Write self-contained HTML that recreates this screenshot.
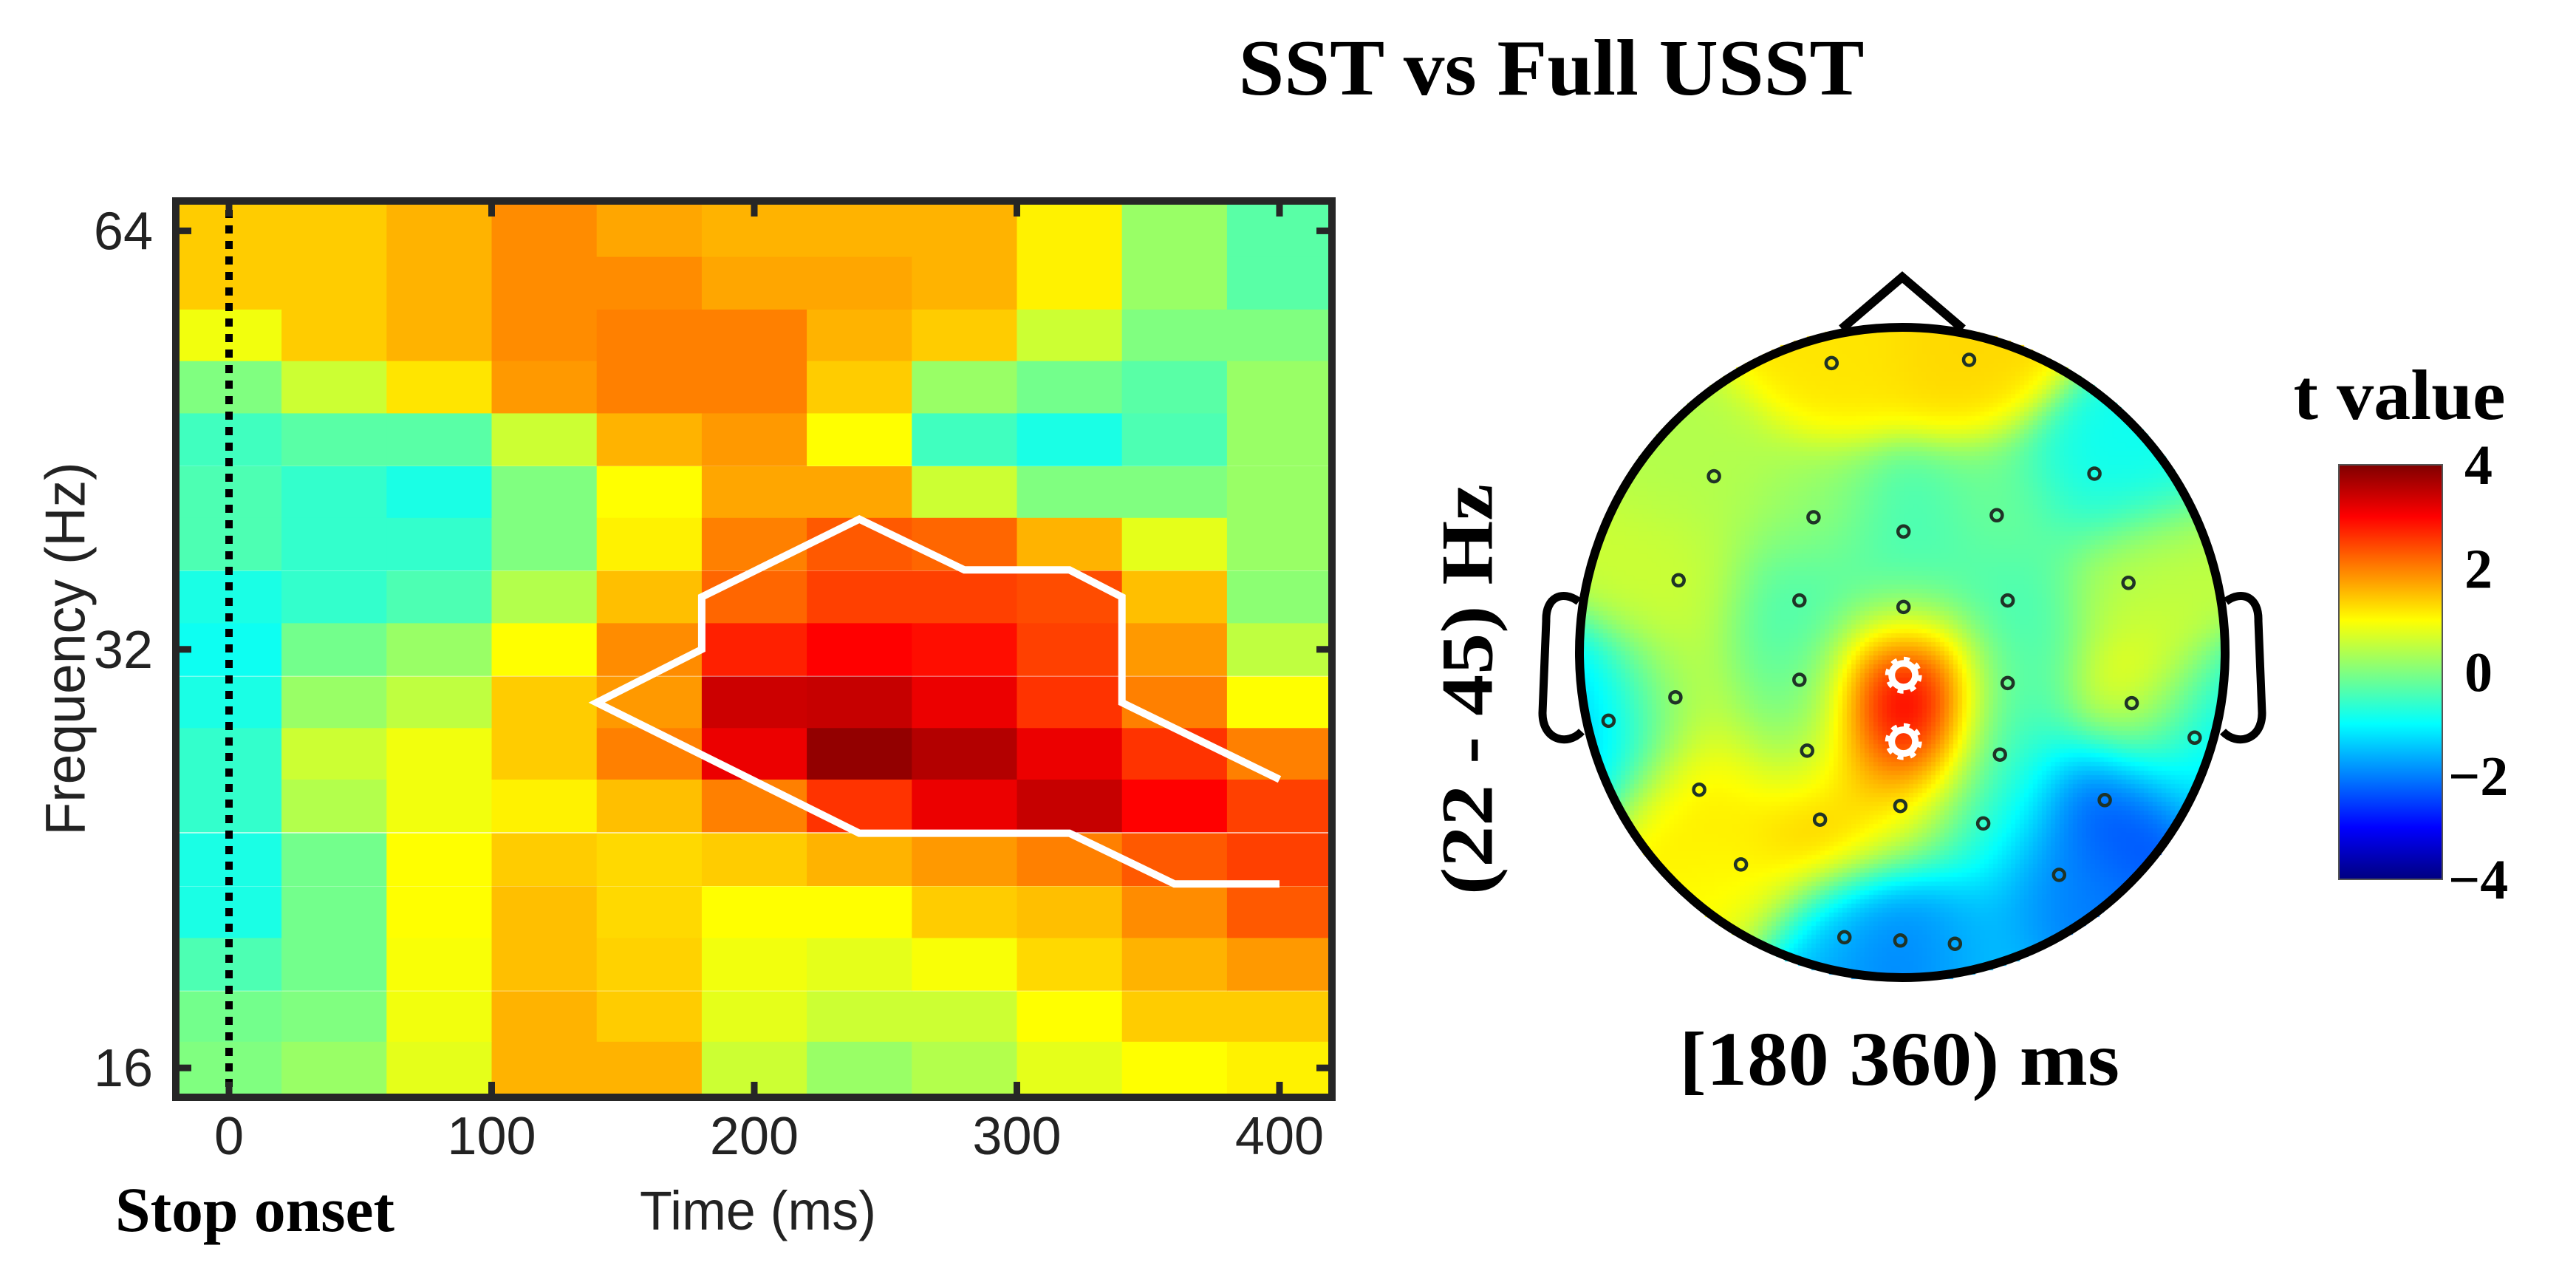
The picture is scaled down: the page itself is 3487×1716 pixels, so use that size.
<!DOCTYPE html>
<html><head><meta charset="utf-8">
<style>
html,body{margin:0;padding:0;background:#fff;}
#wrap{position:relative;width:3487px;height:1716px;overflow:hidden;background:#fff;}
#topo{position:absolute;left:0;top:0;}
#svg{position:absolute;left:0;top:0;}
</style></head>
<body>
<div id="wrap">
<canvas id="topo" width="3487" height="1716"></canvas>
<svg id="svg" width="3487" height="1716" xmlns="http://www.w3.org/2000/svg">
  <defs>
    <clipPath id="plotClip"><rect x="243" y="277" width="1555" height="1204"/></clipPath>
    <linearGradient id="jetGrad" x1="0" y1="1" x2="0" y2="0"></linearGradient>
  </defs>
  <g id="cells" clip-path="url(#plotClip)"></g>
  <polyline id="contour" fill="none" stroke="#fff" stroke-width="10" stroke-linejoin="miter"/>
  <line x1="310" y1="284" x2="310" y2="1478" stroke="#000" stroke-width="10" stroke-dasharray="11 10"/>
  <g id="ticks"></g>
  <rect x="238" y="272" width="1565" height="1213" fill="none" stroke="#262626" stroke-width="10"/>
  <g id="ticklabels" font-family="Liberation Sans, sans-serif" fill="#222"></g>
  <text x="89" y="878" transform="rotate(-90 89 878)" text-anchor="middle" dominant-baseline="central" font-family="Liberation Sans, sans-serif" font-size="76" textLength="505" lengthAdjust="spacingAndGlyphs" fill="#222">Frequency (Hz)</text>
  <text x="1026" y="1664" text-anchor="middle" font-family="Liberation Sans, sans-serif" font-size="74" textLength="320" lengthAdjust="spacingAndGlyphs" fill="#222">Time (ms)</text>
  <text x="156" y="1666" font-family="Liberation Serif, serif" font-weight="bold" font-size="86" textLength="378" lengthAdjust="spacingAndGlyphs" fill="#000">Stop onset</text>
  <text x="2100" y="128" text-anchor="middle" font-family="Liberation Serif, serif" font-weight="bold" font-size="108" textLength="847" lengthAdjust="spacingAndGlyphs" fill="#000">SST vs Full USST</text>

  <g id="head">
    <ellipse cx="2575" cy="883" rx="437" ry="440" fill="none" stroke="#000" stroke-width="12"/>
    <path d="M2493,445 L2575,375 L2657,445" fill="none" stroke="#000" stroke-width="12" stroke-linejoin="miter"/>
    <path d="M2137,814 C2115,798 2092,808 2093,840 L2088,965 C2088,1002 2122,1010 2141,990" fill="none" stroke="#000" stroke-width="11"/>
    <path d="M3013,814 C3035,798 3058,808 3057,840 L3062,965 C3062,1002 3028,1010 3009,990" fill="none" stroke="#000" stroke-width="11"/>
  </g>
  <g id="electrodes"></g>
  <text x="1986" y="933" transform="rotate(-90 1986 933)" text-anchor="middle" dominant-baseline="central" font-family="Liberation Serif, serif" font-weight="bold" font-size="100" textLength="556" lengthAdjust="spacingAndGlyphs" fill="#000">(22 - 45) Hz</text>
  <text x="2571" y="1468" text-anchor="middle" font-family="Liberation Serif, serif" font-weight="bold" font-size="104" textLength="596" lengthAdjust="spacingAndGlyphs" fill="#000">[180 360) ms</text>

  <text x="3248" y="567" text-anchor="middle" font-family="Liberation Serif, serif" font-weight="bold" font-size="96" textLength="287" lengthAdjust="spacingAndGlyphs" fill="#000">t value</text>
  <rect x="3166" y="629" width="140" height="561" fill="url(#jetGrad)" stroke="#555" stroke-width="2"/>
  <g id="cbticks" font-family="Liberation Serif, serif" font-weight="bold" font-size="76" fill="#000"></g>
</svg>
</div>
<script>
// ---------- Time-frequency heatmap data ----------
const times = [0,40,80,120,160,200,240,280,320,360,400];
const freqs = [64,58.7,53.8,49.4,45.3,41.5,38.1,34.9,32,29.3,26.9,24.7,22.6,20.7,19.0,17.4,16.0];
const tRow0  = [1.4,1.4,1.6,1.9,1.7,1.6,1.6,1.6,1.1,0.2,-0.3];
const tRow1  = [1.4,1.4,1.6,1.9,1.9,1.7,1.7,1.6,1.1,0.2,-0.3];
const tRow2  = [0.9,1.4,1.6,1.9,2.0,2.0,1.6,1.4,0.6,0.0,0.0];
const tRow3  = [0.0,0.6,1.2,1.8,2.0,2.0,1.4,0.2,-0.1,-0.3,0.2];
const tRow4  = [-0.5,-0.3,-0.3,0.6,1.6,1.8,1.0,-0.5,-0.8,-0.4,0.2];
const tRow5  = [-0.4,-0.6,-0.8,0.0,1.0,1.7,1.7,0.6,0.0,0.0,0.2];
const tRow6  = [-0.4,-0.6,-0.6,0.0,1.1,2.0,2.3,2.2,1.6,0.8,0.2];
const tRow7  = [-0.8,-0.6,-0.4,0.4,1.5,2.2,2.5,2.5,2.4,1.5,0.1];
const tRow8  = [-0.9,-0.1,0.2,1.0,1.9,2.75,3.0,2.9,2.5,1.8,0.5];
const tRow9  = [-0.8,0.2,0.5,1.4,1.8,3.4,3.45,3.15,2.6,2.0,1.0];
const tRow10 = [-0.6,0.6,0.9,1.4,2.0,3.15,3.85,3.6,3.15,2.6,2.0];
const tRow11 = [-0.6,0.4,0.9,1.1,1.5,2.0,2.6,3.15,3.45,3.0,2.5];
const tRow12 = [-0.8,-0.1,1.0,1.4,1.3,1.4,1.6,1.8,2.0,2.3,2.5];
const tRow13 = [-0.8,-0.1,1.0,1.5,1.3,1.0,1.0,1.4,1.5,1.9,2.3];
const tRow14 = [-0.4,-0.1,0.95,1.5,1.35,0.9,0.8,0.95,1.3,1.6,1.8];
const tRow15 = [-0.1,0.0,0.9,1.6,1.4,0.8,0.6,0.6,1.0,1.4,1.4];
const tRow16 = [0.0,0.2,0.8,1.6,1.6,0.6,0.2,0.4,0.8,1.0,1.1];
const tValues = [tRow0,tRow1,tRow2,tRow3,tRow4,tRow5,tRow6,tRow7,tRow8,tRow9,tRow10,tRow11,tRow12,tRow13,tRow14,tRow15,tRow16];
// significance cluster outline (time ms, frequency Hz)
const contourTimes = [400,340,340,320,280,240,180,180,140,240,320,360,400];
const contourFreqs = [25.8,29.3,34.9,36.5,36.5,39.7,34.9,32,29.3,23.6,23.6,21.7,21.7];
const xTicks = [0,100,200,300,400];
const yTicks = [64,32,16];
// ---------- Topography data ----------
const elecX = [0.390,0.604,0.207,0.799,0.362,0.647,0.502,0.152,0.852,0.340,0.502,0.664,0.340,0.664,0.147,0.857,0.043,0.955,0.352,0.652,0.184,0.815,0.497,0.372,0.626,0.249,0.744,0.410,0.497,0.582];
const elecY = [0.055,0.050,0.229,0.225,0.292,0.289,0.314,0.389,0.393,0.420,0.430,0.420,0.542,0.547,0.569,0.578,0.605,0.631,0.651,0.657,0.711,0.727,0.736,0.757,0.763,0.826,0.842,0.938,0.943,0.948];
const elecT = [1.2,1.3,0.4,-0.9,0.2,-0.1,-0.5,0.6,0.5,-0.5,-0.4,-0.5,-0.3,-0.4,0.6,1.1,-1.5,-1.2,0.1,-0.7,1.2,-2.5,0.5,1.8,-0.8,1.0,-2.0,-1.5,-2.3,-1.4];
const sigX = [0.502,0.502];
const sigY = [0.535,0.637];
const sigT = [3.9,3.6];
const cbTicks = [4,2,0,-2,-4];

const NS = 'http://www.w3.org/2000/svg';
function jet(v){
  let f = (v+4)/8; f = Math.max(0,Math.min(1,f));
  const cl = x=>Math.max(0,Math.min(1,x));
  const r = cl(1.5-Math.abs(4*f-3)), g = cl(1.5-Math.abs(4*f-2)), b = cl(1.5-Math.abs(4*f-1));
  return [Math.round(r*255),Math.round(g*255),Math.round(b*255)];
}
function jetStr(v){const c=jet(v);return 'rgb('+c[0]+','+c[1]+','+c[2]+')';}
const xOf = t => 310 + t*3.555;
const yOf = f => 277 + (Math.log2(64/f)*8 + 0.5)*70.8;
const rowH = 70.8;

const cells = document.getElementById('cells');
for (let r=0;r<freqs.length;r++){
  for (let c=0;c<times.length;c++){
    const rc = document.createElementNS(NS,'rect');
    const x0 = xOf(times[c]-20), x1 = xOf(times[c]+20);
    const yc = yOf(freqs[r]);
    rc.setAttribute('x', x0.toFixed(1));
    rc.setAttribute('y', (yc-rowH/2).toFixed(1));
    rc.setAttribute('width', (x1-x0+0.6).toFixed(1));
    rc.setAttribute('height', (rowH+0.6).toFixed(1));
    rc.setAttribute('fill', jetStr(tValues[r][c]));
    
    
    cells.appendChild(rc);
  }
}
document.getElementById('contour').setAttribute('points',
  contourTimes.map((t,i)=>xOf(t).toFixed(1)+','+yOf(contourFreqs[i]).toFixed(1)).join(' '));

const ticks = document.getElementById('ticks');
function tline(x1,y1,x2,y2,name){
  const l=document.createElementNS(NS,'line');
  l.setAttribute('x1',x1);l.setAttribute('y1',y1);l.setAttribute('x2',x2);l.setAttribute('y2',y2);
  l.setAttribute('stroke','#262626');l.setAttribute('stroke-width','9');
  
  
  ticks.appendChild(l);
}
const tl = document.getElementById('ticklabels');
xTicks.forEach(t=>{
  const x=xOf(t);
  tline(x,277,x,293,'x-tick-top');
  tline(x,1480,x,1464,'x-tick-bottom');
  const tx=document.createElementNS(NS,'text');
  tx.setAttribute('x',x.toFixed(1));tx.setAttribute('y','1562');
  tx.setAttribute('text-anchor','middle');tx.setAttribute('font-size','72');
  tx.textContent=String(t);
  
  
  tl.appendChild(tx);
});
yTicks.forEach(f=>{
  const y=yOf(f);
  tline(243,y,259,y,'y-tick-left');
  tline(1798,y,1782,y,'y-tick-right');
  const tx=document.createElementNS(NS,'text');
  tx.setAttribute('x','207');tx.setAttribute('y',(y+25).toFixed(1));
  tx.setAttribute('text-anchor','end');tx.setAttribute('font-size','72');
  tx.textContent=String(f);
  
  
  tl.appendChild(tx);
});

// topography
const HX0=2140, HX1=3010, HY0=443, HY1=1323;
const cx=2575, cy=883, rx=435, ry=440;
const ex = elecX.map(v=>HX0+v*(HX1-HX0)), ey = elecY.map(v=>HY0+v*(HY1-HY0));
const sx = sigX.map(v=>HX0+v*(HX1-HX0)), sy = sigY.map(v=>HY0+v*(HY1-HY0));
const px = ex.concat(sx), py = ey.concat(sy), pv = elecT.concat(sigT);
const cv = document.getElementById('topo');
const ctx = cv.getContext('2d');
const step = 6;
const sig2 = 2*62*62;
for (let y=HY0; y<=HY1; y+=step){
  for (let x=HX0; x<=HX1; x+=step){
    const dx=(x+step/2-cx)/rx, dy=(y+step/2-cy)/ry;
    if (dx*dx+dy*dy>1.02) continue;
    let ws=0, vs=0;
    for (let i=0;i<px.length;i++){
      const d2=(x-px[i])**2+(y-py[i])**2;
      const w=Math.exp(-d2/sig2)+1e-3/(1+d2/4000)**1.5;
      ws+=w; vs+=w*pv[i];
    }
    ctx.fillStyle=jetStr(vs/ws);
    ctx.fillRect(x,y,step,step);
  }
}
const eg = document.getElementById('electrodes');
for (let i=0;i<ex.length;i++){
  const c=document.createElementNS(NS,'circle');
  c.setAttribute('cx',ex[i].toFixed(1));c.setAttribute('cy',ey[i].toFixed(1));
  c.setAttribute('r','7.5');c.setAttribute('fill','none');
  c.setAttribute('stroke','#1f3327');c.setAttribute('stroke-width','4.5');
  
  
  eg.appendChild(c);
}
for (let i=0;i<sx.length;i++){
  const c=document.createElementNS(NS,'circle');
  c.setAttribute('cx',sx[i].toFixed(1));c.setAttribute('cy',sy[i].toFixed(1));
  c.setAttribute('r','16');c.setAttribute('fill','none');
  c.setAttribute('stroke','#fff');c.setAttribute('stroke-width','9');
  
  
  eg.appendChild(c);
  const c2=document.createElementNS(NS,'circle');
  c2.setAttribute('cx',sx[i].toFixed(1));c2.setAttribute('cy',sy[i].toFixed(1));
  c2.setAttribute('r','22');c2.setAttribute('fill','none');
  c2.setAttribute('stroke','#fff');c2.setAttribute('stroke-width','6');
  c2.setAttribute('stroke-dasharray','8 9.3');
  
  
  eg.appendChild(c2);
}
const grad=document.getElementById('jetGrad');
for (let k=0;k<=32;k++){
  const s=document.createElementNS(NS,'stop');
  s.setAttribute('offset',(k/32).toFixed(4));
  s.setAttribute('stop-color',jetStr(-4+8*k/32));
  grad.appendChild(s);
}
const cbt=document.getElementById('cbticks');
cbTicks.forEach(v=>{
  const y=629+(4-v)/8*561;
  const t=document.createElementNS(NS,'text');
  t.setAttribute('x', v<0 ? '3314' : '3336');
  t.setAttribute('y',(y+26).toFixed(1));
  t.textContent = v<0 ? '\u2212'+Math.abs(v) : String(v);
  
  
  cbt.appendChild(t);
});
</script>
</body></html>
